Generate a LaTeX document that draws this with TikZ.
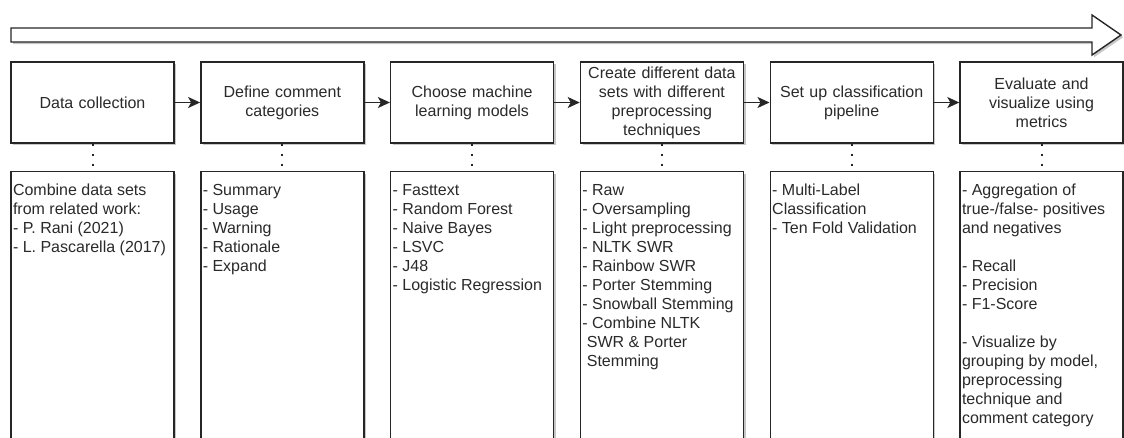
\documentclass[tikz,border=0pt]{standalone}
\usepackage{fontspec}
\setmainfont{Liberation Sans}
\usetikzlibrary{arrows.meta,shadows}

\definecolor{ink}{HTML}{262626}
\definecolor{txt}{HTML}{2A2A2A}

\tikzset{
  softshadow/.style={drop shadow={shadow xshift=2.2pt, shadow yshift=-2.2pt, opacity=0.22, fill=black}},
  stagebox/.style={draw=ink, line width=1.4pt, fill=white, softshadow,
    minimum width=163pt, minimum height=81pt, inner sep=0pt,
    text width=152pt, align=center, text=txt,
    font=\fontsize{16pt}{19pt}\selectfont},
  detailbox/.style={draw=ink, line width=1.4pt, fill=white, softshadow,
    minimum width=163pt, minimum height=300pt, anchor=north, inner sep=0pt},
  detailtext/.style={anchor=north west, inner sep=0pt, align=left, text=txt,
    font=\fontsize{16pt}{19pt}\selectfont},
  flowarrow/.style={draw=ink, line width=1.4pt, -{Stealth[length=12pt,width=11pt,inset=3pt]}},
  dotlink/.style={draw=ink, line width=2pt, dash pattern=on 2pt off 8pt},
  timeline/.style={draw=ink, line width=1.4pt, fill=white, softshadow},
}

\begin{document}
\begin{tikzpicture}[x=1pt, y=-1pt]
\useasboundingbox (0,0) rectangle (1124,437);
\clip (0,0) rectangle (1124,437);

% overall progress arrow
\path[timeline] (11,28) -- (1092,28) -- (1092,15) -- (1121,35)
  -- (1092,55) -- (1092,42) -- (11,42) -- cycle;

% process stages
\node[stagebox] (s1) at (92.5,102.5)  {Data collection};
\node[stagebox] (s2) at (282.3,102.5) {Define comment\\categories};
\node[stagebox] (s3) at (472.1,102.5) {Choose machine\\learning models};
\node[stagebox] (s4) at (661.9,102.5) {Create different data\\sets with different\\preprocessing\\techniques};
\node[stagebox] (s5) at (851.7,102.5) {Set up classification\\pipeline};
\node[stagebox] (s6) at (1041.5,102.5) {Evaluate and\\visualize using\\metrics};

% detail panels
\node[detailbox] (d1) at (92.5,171)  {};
\node[detailbox] (d2) at (282.3,171) {};
\node[detailbox] (d3) at (472.1,171) {};
\node[detailbox] (d4) at (661.9,171) {};
\node[detailbox] (d5) at (851.7,171) {};
\node[detailbox] (d6) at (1041.5,171) {};

\node[detailtext] (t1) at ([shift={(2.5pt,-10.5pt)}]d1.north west)
  {\strut Combine data sets\\from related work:\\- P. Rani (2021)\\- L. Pascarella (2017)};
\node[detailtext] (t2) at ([shift={(2.5pt,-10.5pt)}]d2.north west)
  {\strut - Summary\\- Usage\\- Warning\\- Rationale\\- Expand};
\node[detailtext] (t3) at ([shift={(2.5pt,-10.5pt)}]d3.north west)
  {\strut - Fasttext\\- Random Forest\\- Naive Bayes\\- LSVC\\- J48\\- Logistic Regression};
\node[detailtext] (t4) at ([shift={(2.5pt,-10.5pt)}]d4.north west)
  {\strut - Raw\\- Oversampling\\- Light preprocessing\\- NLTK SWR\\- Rainbow SWR\\- Porter Stemming\\- Snowball Stemming\\- Combine NLTK\\\ SWR \& Porter\\\ Stemming};
\node[detailtext] (t5) at ([shift={(2.5pt,-10.5pt)}]d5.north west)
  {\strut - Multi-Label\\Classification\\- Ten Fold Validation};
\node[detailtext] (t6) at ([shift={(2.5pt,-10.5pt)}]d6.north west)
  {\strut - Aggregation of\\true-/false- positives\\and negatives\\[19pt]- Recall\\- Precision\\- F1-Score\\[19pt]- Visualize by\\grouping by model,\\preprocessing\\technique and\\comment category};

% stage-to-stage flow
\foreach \a/\b in {s1/s2, s2/s3, s3/s4, s4/s5, s5/s6}
  \draw[flowarrow] (\a.east) -- (\b.west);

% stage-to-detail links
\foreach \i in {1,...,6}
  \draw[dotlink] (s\i.south) -- (d\i.north);
\end{tikzpicture}
\end{document}
